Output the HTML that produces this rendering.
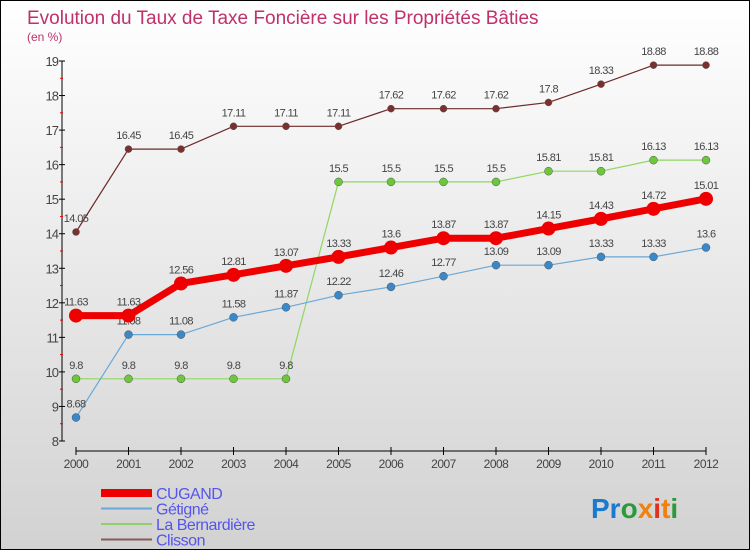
<!DOCTYPE html>
<html><head><meta charset="utf-8"><style>
body{margin:0}
#wrap{position:relative;width:748px;height:548px;border:1px solid #000;background:linear-gradient(#ffffff,#d2d2d2);font-family:"Liberation Sans",sans-serif;overflow:hidden}
</style></head><body>
<div id="wrap">
<svg id="chart" width="748" height="548" style="position:absolute;left:0;top:0">
<text x="26" y="23" font-size="19" fill="#c0306a">Evolution du Taux de Taxe Foncière sur les Propriétés Bâties</text>
<text x="26" y="40" font-size="12" fill="#c0306a">(en %)</text>
<g id="axes"></g><g id="series"></g>
<text x="590" y="517" font-size="28" font-weight="bold" fill="#1a7ad0"><tspan fill="#1a7ad0">Pr</tspan><tspan fill="#2a9a3a">o</tspan><tspan fill="#f08010">x</tspan><tspan fill="#e03020">i</tspan><tspan fill="#f08010">t</tspan><tspan fill="#2a9a3a">i</tspan></text>
</svg>
</div>
<script>
const years=[2000,2001,2002,2003,2004,2005,2006,2007,2008,2009,2010,2011,2012];
const yTicks=[8,9,10,11,12,13,14,15,16,17,18,19];
const cugand=[11.63,11.63,12.56,12.81,13.07,13.33,13.6,13.87,13.87,14.15,14.43,14.72,15.01];
const getigne=[8.68,11.08,11.08,11.58,11.87,12.22,12.46,12.77,13.09,13.09,13.33,13.33,13.6];
const bernardiere=[9.8,9.8,9.8,9.8,9.8,15.5,15.5,15.5,15.5,15.81,15.81,16.13,16.13];
const clisson=[14.05,16.45,16.45,17.11,17.11,17.11,17.62,17.62,17.62,17.8,18.33,18.88,18.88];
const seriesNames=["CUGAND","Gétigné","La Bernardière","Clisson"];
const NS="http://www.w3.org/2000/svg";
const xS=i=>75+i*52.5;
const yS=v=>440-(v-8)*(380/11);
function mk(t,a,p){const e=document.createElementNS(NS,t);for(const k in a)e.setAttribute(k,a[k]);p.appendChild(e);return e;}
const ax=document.getElementById('axes'),sg=document.getElementById('series');
const yl=mk('line',{x1:61,y1:60,x2:61,y2:440,stroke:'#000'},ax);


yTicks.forEach(v=>{
 mk('line',{x1:58,y1:yS(v),x2:64,y2:yS(v),stroke:'#000'},ax);
 if(v<19)mk('line',{x1:59,y1:yS(v+0.5),x2:62,y2:yS(v+0.5),stroke:'#e00'},ax);
 const t=mk('text',{x:57,y:yS(v)+5,'text-anchor':'end','font-size':13,fill:'#444','letter-spacing':'-1'},ax);
 t.textContent=v;
 
 
});
const xl=mk('line',{x1:75,y1:450,x2:705,y2:450,stroke:'#000'},ax);


years.forEach((y,i)=>{
 mk('line',{x1:xS(i),y1:446,x2:xS(i),y2:454,stroke:'#000'},ax);
 const t=mk('text',{x:xS(i),y:467,'text-anchor':'middle','font-size':12,fill:'#444','letter-spacing':'-0.5'},ax);
 t.textContent=y;
 
 
});
const defs=[[clisson,'#6e2a2a','#7b2f2f',1.2,3.5,'#8a5a5a'],[bernardiere,'#8ed860','#6cc83a',1.2,4,'#8fd06a'],[getigne,'#6aa8d8','#3a88c8',1.2,4,'#6aa8d8'],[cugand,'#ee0000','#ee0000',7,7,'#ee0000']];
const keys=['clisson','la-bernardiere','getigne','cugand'];
defs.forEach((d,k)=>{
 const g=mk('g',{},sg);
 
 
 const pts=d[0].map((v,i)=>xS(i)+','+yS(v)).join(' ');
 mk('polyline',{points:pts,fill:'none',stroke:d[1],'stroke-width':d[3],'stroke-linejoin':'round'},g);
 d[0].forEach((v,i)=>{
  const c=mk('circle',{cx:xS(i),cy:yS(v),r:d[4],fill:d[2],stroke:k==3?'none':'#555','stroke-width':0.5},g);
  
  
  const t=mk('text',{x:xS(i),y:yS(v)-10,'text-anchor':'middle','font-size':11,fill:'#444','letter-spacing':'-0.6'},g);
  t.textContent=v;
  
  
 });
});
const leg=[['#ee0000',8],['#6aa8d8',2],['#8fd06a',2],['#8a5a5a',2]];
const svg=document.getElementById('chart');
seriesNames.forEach((n,i)=>{
 const g=mk('g',{},svg);
 
 
 const y=492+i*15.5;
 mk('line',{x1:100,y1:y,x2:151,y2:y,stroke:leg[i][0],'stroke-width':leg[i][1]},g);
 const t=mk('text',{x:155,y:y+6,'font-size':16,fill:'#5555ee','letter-spacing':'-0.5'},g);
 t.textContent=n;
});
</script>
</body></html>
